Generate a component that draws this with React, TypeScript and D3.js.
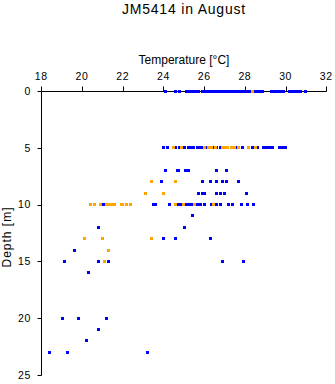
import React from "react";
import * as d3 from "d3";

const title = "JM5414 in August";
const xTitle = "Temperature [°C]";
const yTitle = "Depth [m]";
const tempTicks = [18, 20, 22, 24, 26, 28, 30, 32];
const depthTicks = [0, 5, 10, 15, 20, 25];

// [depth m, temperature °C]
const bluePoints: [number, number][] = [
  [0, 24.1], [0, 24.59], [0, 24.79], [0, 25.14], [0, 25.28], [0, 25.43], [0, 25.58], [0, 25.7], [0, 25.9],
  [0, 26.07], [0, 26.22], [0, 26.37], [0, 26.51], [0, 26.66], [0, 26.81], [0, 26.96], [0, 27.1], [0, 27.25],
  [0, 27.4], [0, 27.55], [0, 27.7], [0, 27.85], [0, 27.95], [0, 28.1], [0, 28.25], [0, 28.4], [0, 28.55],
  [0, 28.7], [0, 28.86], [0, 29.31], [0, 29.46], [0, 29.61], [0, 29.75], [0, 29.88], [0, 30.2], [0, 30.34],
  [0, 30.49], [0, 30.64], [0, 30.74], [0, 30.97],
  [5, 24.0], [5, 24.19], [5, 24.61], [5, 24.77], [5, 25.01], [5, 25.21], [5, 25.36], [5, 25.5], [5, 25.65],
  [5, 25.8], [5, 25.95], [5, 26.1], [5, 26.49], [5, 26.63], [5, 26.78], [5, 27.6], [5, 27.9], [5, 28.39],
  [5, 28.62], [5, 28.92], [5, 29.06], [5, 29.21], [5, 29.34], [5, 29.71], [5, 29.83], [5, 29.99],
  [7, 24.09], [7, 24.67], [7, 24.74], [7, 25.09], [7, 25.24], [7, 26.61], [7, 27.1],
  [8, 23.92], [8, 25.92], [8, 26.31], [8, 26.61], [8, 26.9], [8, 27.1], [8, 27.69],
  [9, 25.72], [9, 25.92], [9, 26.02], [9, 26.61], [9, 26.81], [9, 27.0], [9, 28.08],
  [10, 21.08], [10, 23.51], [10, 23.61], [10, 24.3], [10, 24.67], [10, 24.86], [10, 25.14], [10, 25.26],
  [10, 25.41], [10, 25.65], [10, 25.82], [10, 26.02], [10, 26.34], [10, 26.61], [10, 26.81], [10, 27.2],
  [10, 27.4], [10, 27.81], [10, 28.11], [10, 28.4],
  [11, 25.43],
  [12, 20.81], [12, 25.01],
  [13, 24.0], [13, 24.59], [13, 26.31],
  [14, 19.63],
  [15, 19.12], [15, 20.81], [15, 21.3], [15, 26.9], [15, 27.91],
  [16, 20.32],
  [20, 19.02], [20, 19.83], [20, 21.2],
  [21, 20.81],
  [22, 20.22],
  [23, 18.4], [23, 19.31], [23, 23.22],
];

const orangePoints: [number, number][] = [
  [0, 28.38],
  [5, 24.49], [5, 24.9], [5, 26.03], [5, 26.19], [5, 26.34], [5, 26.57], [5, 26.88], [5, 27.03], [5, 27.17],
  [5, 27.32], [5, 27.47], [5, 27.69], [5, 28.19], [5, 28.5],
  [8, 23.41], [8, 24.6],
  [9, 23.12], [9, 24.0],
  [10, 20.42], [10, 20.59], [10, 20.91], [10, 21.2], [10, 21.35], [10, 21.5], [10, 21.62], [10, 21.94],
  [10, 22.01], [10, 22.19], [10, 22.38], [10, 24.59], [10, 24.99], [10, 25.55], [10, 26.46],
  [13, 20.12], [13, 21.01], [13, 23.42],
  [14, 21.3],
  [15, 21.11],
];

const W = 335;
const H = 384;
const FONT = "'Liberation Sans', Arial, sans-serif";

export default function App() {
  const x = d3.scaleLinear().domain([18, 32]).range([41.3, 326.3]);
  const y = d3.scaleLinear().domain([0, 25]).range([91, 375]);
  const px = (v: number) => Math.round(v) + 0.5;
  const m = 3;

  return (
    <svg
      width={W}
      height={H}
      style={{ position: "absolute", left: 0, top: 0, background: "#fff" }}
      fontFamily={FONT}
    >
      <text x={184} y={13.5} textAnchor="middle" fontSize={14} letterSpacing={0.8} fill="#000">
        {title}
      </text>
      <text x={184} y={64} textAnchor="middle" fontSize={12} fill="#000">
        {xTitle}
      </text>
      <text
        transform={`translate(11,${(y(0) + y(25)) / 2 + 4}) rotate(-90)`}
        textAnchor="middle"
        fontSize={12}
        letterSpacing={1}
        fill="#000"
      >
        {yTitle}
      </text>

      {/* top axis */}
      <line x1={px(x(18))} x2={px(x(32))} y1={px(y(0))} y2={px(y(0))} stroke="#000" />
      {tempTicks.map((t) => (
        <g key={t}>
          <line x1={px(x(t))} x2={px(x(t))} y1={px(y(0)) - 5} y2={px(y(0))} stroke="#000" />
          <text x={x(t)} y={79.5} textAnchor="middle" fontSize={10.5} letterSpacing={0.6} fill="#000">
            {t}
          </text>
        </g>
      ))}

      {/* left axis */}
      <line x1={px(x(18))} x2={px(x(18))} y1={px(y(0))} y2={px(y(25))} stroke="#000" />
      {depthTicks.map((d) => (
        <g key={d}>
          <line x1={px(x(18)) - 4} x2={px(x(18))} y1={px(y(d))} y2={px(y(d))} stroke="#000" />
          <text x={31} y={y(d) + 3.7} textAnchor="end" fontSize={10.5} letterSpacing={0.6} fill="#000">
            {d}
          </text>
        </g>
      ))}

      {bluePoints.map(([d, t], i) => (
        <rect
          key={"b" + i}
          x={Math.round(x(t) - m / 2)}
          y={Math.round(y(d) - m / 2)}
          width={m}
          height={m}
          fill="#0000ff"
        />
      ))}
      {orangePoints.map(([d, t], i) => (
        <rect
          key={"o" + i}
          x={Math.round(x(t) - m / 2)}
          y={Math.round(y(d) - m / 2)}
          width={m}
          height={m}
          fill="#ffa500"
        />
      ))}
    </svg>
  );
}
